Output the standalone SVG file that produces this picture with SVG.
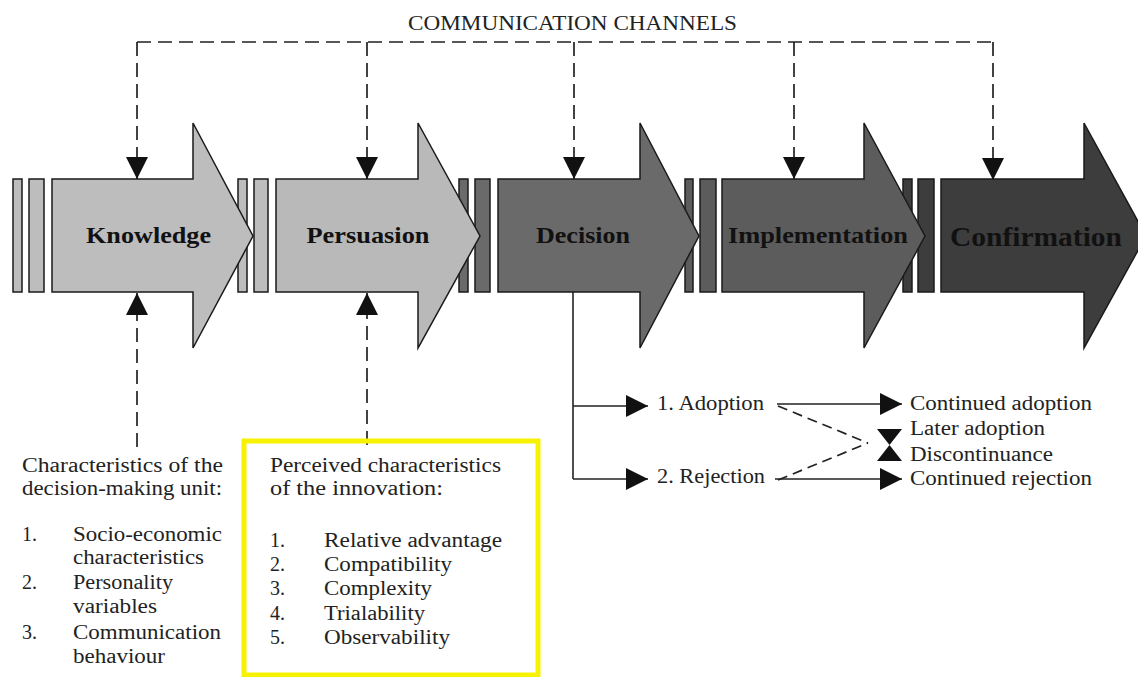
<svg xmlns="http://www.w3.org/2000/svg" width="1138" height="677" viewBox="0 0 1138 677">
<style>
  .shape { stroke: #1a1a1a; stroke-width: 1.5; stroke-linejoin: miter; }
  .light { fill: #bdbdbd; }
  .mid { fill: #6a6a6a; }
  .mid2 { fill: #5c5c5c; }
  .dark { fill: #3d3d3d; }
  .lbl { font-family: "Liberation Serif", "Times New Roman", serif; font-weight: bold; fill: #111; text-anchor: middle; }
  .txt { font-family: "Liberation Serif", "Times New Roman", serif; font-size: 20px; fill: #222; }
  .dash { fill: none; stroke: #222; stroke-width: 1.7; stroke-dasharray: 14 7; }
  .solid { fill: none; stroke: #222; stroke-width: 1.6; }
</style>
<defs>
  <marker id="ah" viewBox="0 0 22 22" refX="22" refY="11" markerWidth="22" markerHeight="22" markerUnits="userSpaceOnUse" orient="auto">
    <path d="M0,0 L22,11 L0,22 Z" fill="#111"/>
  </marker>
</defs>
<rect width="1138" height="677" fill="#ffffff"/>

<text class="txt" x="408" y="30" style="font-size:20px" textLength="329" lengthAdjust="spacingAndGlyphs">COMMUNICATION CHANNELS</text>

<!-- separator bars -->
<g id="bars">
  <rect class="shape light" x="13" y="179" width="9" height="113"/>
  <rect class="shape light" x="29" y="179" width="15" height="113"/>
  <rect class="shape light" x="238" y="179" width="9" height="113"/>
  <rect class="shape light" x="254" y="179" width="14" height="113"/>
  <rect class="shape mid" x="459" y="179" width="9" height="113"/>
  <rect class="shape mid" x="475" y="179" width="15" height="113"/>
  <rect class="shape mid2" x="685" y="179" width="8" height="113"/>
  <rect class="shape mid2" x="700" y="179" width="16" height="113"/>
  <rect class="shape dark" x="903" y="179" width="9" height="113"/>
  <rect class="shape dark" x="918" y="179" width="16" height="113"/>
</g>

<g id="knowledge">
  <path class="shape light" d="M52,179 H193 V123 L253,236 L193,348 V292 H52 Z"/>
  <text class="lbl" x="148.5" y="243" font-size="23" textLength="125" lengthAdjust="spacingAndGlyphs">Knowledge</text>
</g>
<g id="persuasion">
  <path class="shape light" d="M276,179 H418 V123 L480,236 L418,348 V292 H276 Z" style="fill:#b9b9b9"/>
  <text class="lbl" x="368" y="243" font-size="23" textLength="123" lengthAdjust="spacingAndGlyphs">Persuasion</text>
</g>
<g id="decision">
  <path class="shape mid" d="M498,179 H640 V123 L699,236 L640,348 V292 H498 Z"/>
  <text class="lbl" x="583" y="243" font-size="23" textLength="94" lengthAdjust="spacingAndGlyphs">Decision</text>
</g>
<g id="implementation">
  <path class="shape mid2" d="M722,179 H864 V123 L925,236 L864,348 V292 H722 Z"/>
  <text class="lbl" x="818" y="243" font-size="23" textLength="180" lengthAdjust="spacingAndGlyphs">Implementation</text>
</g>
<g id="confirmation">
  <path class="shape dark" d="M941,179 H1084 V123 L1146,236 L1084,348 V292 H941 Z"/>
  <text class="lbl" x="1036" y="246" font-size="27" textLength="172" lengthAdjust="spacingAndGlyphs">Confirmation</text>
</g>

<g id="connectors">
  <!-- communication channels -->
  <path class="dash" d="M137,42 H993"/>
  <path class="dash" d="M137,42 V179" marker-end="url(#ah)"/>
  <path class="dash" d="M367,42 V179" marker-end="url(#ah)"/>
  <path class="dash" d="M574,42 V179" marker-end="url(#ah)"/>
  <path class="dash" d="M794,42 V179" marker-end="url(#ah)"/>
  <path class="dash" d="M993,42 V180" marker-end="url(#ah)"/>
  <!-- from characteristics -->
  <path class="dash" d="M137,447 V293" marker-end="url(#ah)"/>
  <path class="dash" d="M367,445 V293" marker-end="url(#ah)"/>
  <!-- decision branches -->
  <path class="solid" d="M573,292 V479"/>
  <path class="solid" d="M573,406 H648" marker-end="url(#ah)"/>
  <path class="solid" d="M573,479 H648" marker-end="url(#ah)"/>
  <!-- outcomes -->
  <path class="solid" d="M777,404 H902" marker-end="url(#ah)"/>
  <path class="solid" d="M775,479 H902" marker-end="url(#ah)"/>
  <path class="dash" style="stroke-dasharray:10 6" d="M778,406 L868,443"/>
  <path class="dash" style="stroke-dasharray:10 6" d="M778,480 L868,443"/>
  <path d="M877,429 H902 L889.5,445 Z M877,461 H902 L889.5,445 Z" fill="#111"/>
</g>

<g id="decision-outcomes">
  <text class="txt" x="657" y="410" textLength="107" lengthAdjust="spacingAndGlyphs">1. Adoption</text>
  <text class="txt" x="657" y="483" textLength="108" lengthAdjust="spacingAndGlyphs">2. Rejection</text>
  <text class="txt" x="910" y="410" textLength="182" lengthAdjust="spacingAndGlyphs">Continued adoption</text>
  <text class="txt" x="910" y="435" textLength="135" lengthAdjust="spacingAndGlyphs">Later adoption</text>
  <text class="txt" x="910" y="461" textLength="143" lengthAdjust="spacingAndGlyphs">Discontinuance</text>
  <text class="txt" x="910" y="485" textLength="182" lengthAdjust="spacingAndGlyphs">Continued rejection</text>
</g>

<g id="decision-unit">
  <text class="txt" x="22" y="472" textLength="201" lengthAdjust="spacingAndGlyphs">Characteristics of the</text>
  <text class="txt" x="22" y="495" textLength="200" lengthAdjust="spacingAndGlyphs">decision-making unit:</text>
  <text class="txt" x="22" y="541">1.</text>
  <text class="txt" x="73" y="541" textLength="149" lengthAdjust="spacingAndGlyphs">Socio-economic</text>
  <text class="txt" x="73" y="564" textLength="131" lengthAdjust="spacingAndGlyphs">characteristics</text>
  <text class="txt" x="22" y="589">2.</text>
  <text class="txt" x="73" y="589" textLength="100" lengthAdjust="spacingAndGlyphs">Personality</text>
  <text class="txt" x="73" y="613" textLength="84" lengthAdjust="spacingAndGlyphs">variables</text>
  <text class="txt" x="22" y="639">3.</text>
  <text class="txt" x="73" y="639" textLength="148" lengthAdjust="spacingAndGlyphs">Communication</text>
  <text class="txt" x="73" y="663" textLength="92" lengthAdjust="spacingAndGlyphs">behaviour</text>
</g>

<g id="innovation">
  <rect x="244" y="441" width="294" height="234" fill="none" stroke="#f7f200" stroke-width="5"/>
  <text class="txt" x="270" y="472" textLength="231" lengthAdjust="spacingAndGlyphs">Perceived characteristics</text>
  <text class="txt" x="270" y="495" textLength="173" lengthAdjust="spacingAndGlyphs">of the innovation:</text>
  <text class="txt" x="270" y="547">1.</text>
  <text class="txt" x="324" y="547" textLength="178" lengthAdjust="spacingAndGlyphs">Relative advantage</text>
  <text class="txt" x="270" y="571">2.</text>
  <text class="txt" x="324" y="571" textLength="128" lengthAdjust="spacingAndGlyphs">Compatibility</text>
  <text class="txt" x="270" y="595">3.</text>
  <text class="txt" x="324" y="595" textLength="108" lengthAdjust="spacingAndGlyphs">Complexity</text>
  <text class="txt" x="270" y="620">4.</text>
  <text class="txt" x="324" y="620" textLength="101" lengthAdjust="spacingAndGlyphs">Trialability</text>
  <text class="txt" x="270" y="644">5.</text>
  <text class="txt" x="324" y="644" textLength="126" lengthAdjust="spacingAndGlyphs">Observability</text>
</g>
</svg>
